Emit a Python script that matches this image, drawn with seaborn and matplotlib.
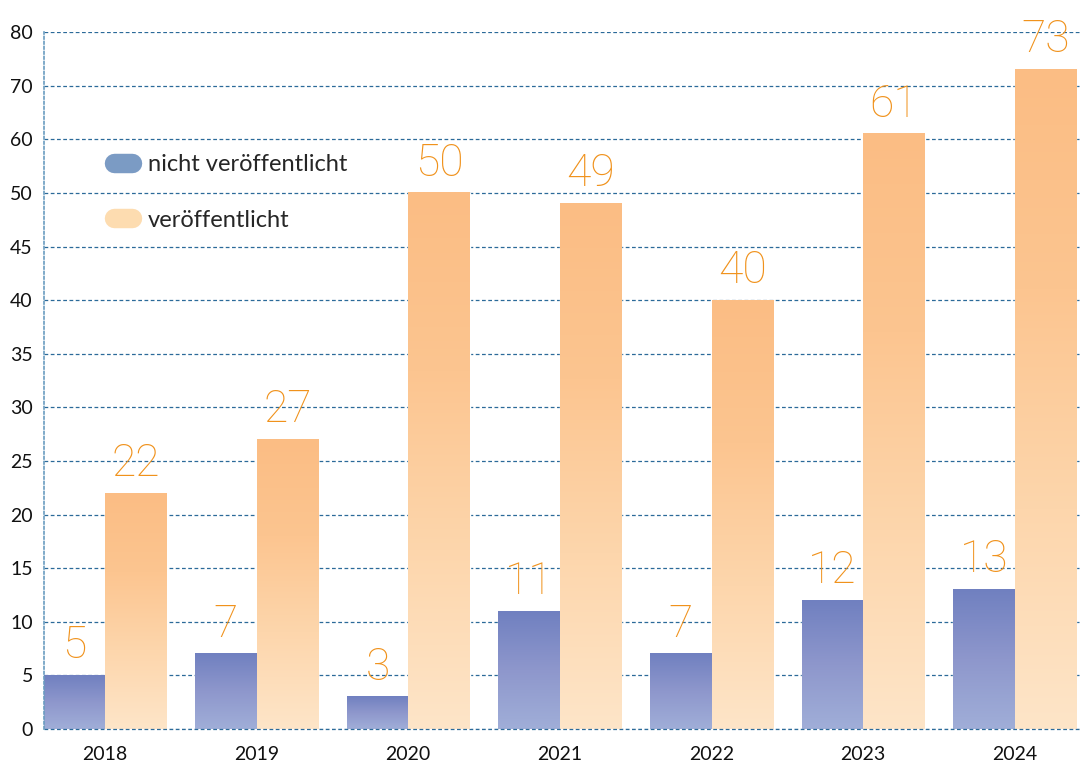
import numpy as np
import pandas as pd
import matplotlib
matplotlib.use("Agg")
import matplotlib.pyplot as plt
from matplotlib.colors import LinearSegmentedColormap
from matplotlib.lines import Line2D
import seaborn as sns

# Data
years = ["2018", "2019", "2020", "2021", "2022", "2023", "2024"]
nicht_veroeffentlicht = [5, 7, 3, 11, 7, 12, 13]
veroeffentlicht = [22, 27, 50, 49, 40, 61, 73]
y_ticks = [0, 5, 10, 15, 20, 25, 30, 35, 40, 45, 50, 60, 70, 80]

lab_nicht = "nicht veröffentlicht"
lab_ver = "veröffentlicht"

df = pd.DataFrame({
    "Jahr": years * 2,
    "Anzahl": nicht_veroeffentlicht + veroeffentlicht,
    "Status": [lab_nicht] * len(years) + [lab_ver] * len(years),
})

sns.set_style("white")
plt.rcParams['font.family'] = ['Lato', 'DejaVu Sans']

blue = "#8593c8"
peach = "#fdcb9c"

fig = plt.figure(figsize=(10.91, 7.65), dpi=100)
ax = fig.add_axes([0.0403, 0.047, 0.9497, 0.911])

sns.barplot(data=df, x="Jahr", y="Anzahl", hue="Status",
            palette=[blue, peach], width=0.81, gap=0, legend=False,
            saturation=1, ax=ax)


# piecewise scale: steps of 5 up to 50, then steps of 10
def fwd(y):
    y = np.asarray(y, dtype=float)
    return np.where(y <= 50, y / 5.0, 10 + (y - 50) / 10.0)


def inv(t):
    t = np.asarray(t, dtype=float)
    return np.where(t <= 10, t * 5.0, 50 + (t - 10) * 10.0)


ax.set_yscale('function', functions=(fwd, inv))
ax.set_ylim(0, 80)
xlim = (-0.402, 6.43)
ax.set_xlim(*xlim)
ax.set_yticks(y_ticks)
ax.set_yticklabels([str(t) for t in y_ticks])

# gradient fill per bar (bottom light -> top stronger)
grad_blue = LinearSegmentedColormap.from_list("b", ["#a0aed8", "#8e97cc", "#7080c0"])
grad_peach = LinearSegmentedColormap.from_list("p", ["#fee5c8", "#fdd6ac", "#fcc590", "#fbbd84"])
grad = np.linspace(0, 1, 256).reshape(-1, 1)
y_top = float(fwd(80))
for cont, cmap in zip(ax.containers, [grad_blue, grad_peach]):
    for patch in cont:
        x0 = (patch.get_x() - xlim[0]) / (xlim[1] - xlim[0])
        x1 = (patch.get_x() + patch.get_width() - xlim[0]) / (xlim[1] - xlim[0])
        y1 = float(fwd(patch.get_height())) / y_top
        ax.imshow(grad, cmap=cmap, aspect='auto', origin='lower',
                  extent=[x0, x1, 0, y1], transform=ax.transAxes, zorder=2)
    labels = ax.bar_label(cont, padding=6, fontsize=32, color="#f0921c", zorder=5)
    for t in labels:
        t.set_family(['Roboto', 'DejaVu Sans'])
        t.set_fontweight('light')

ax.grid(axis='y', color="#2b6a99", linestyle=(0, (3, 2)), linewidth=0.9)
ax.set_axisbelow(True)
ax.axhline(0, color="#2b6a99", linestyle=(0, (3, 2)), linewidth=0.9,
           zorder=3, clip_on=False)

for s in ["top", "right", "bottom"]:
    ax.spines[s].set_visible(False)
ax.spines["left"].set_color("#6a9cc0")
ax.spines["left"].set_linestyle((0, (1.5, 1.5)))
ax.spines["left"].set_linewidth(1.2)
ax.spines["left"].set_zorder(4)

ax.tick_params(axis='both', length=0, labelsize=14, colors="#111111")
ax.tick_params(axis='x', pad=12)
ax.tick_params(axis='y', pad=8)
ax.set_xlabel("")
ax.set_ylabel("")

handles = [
    Line2D([0], [0], color="#7b9bc4", lw=14, solid_capstyle='round'),
    Line2D([0], [0], color="#fddcb0", lw=14, solid_capstyle='round'),
]
ax.legend(handles, [lab_nicht, lab_ver], loc='upper left',
          bbox_to_anchor=(0.047, 0.855), frameon=False, fontsize=17,
          labelspacing=1.45, handlelength=0.75, handletextpad=0.7)

fig.savefig("out.png", dpi=100)
